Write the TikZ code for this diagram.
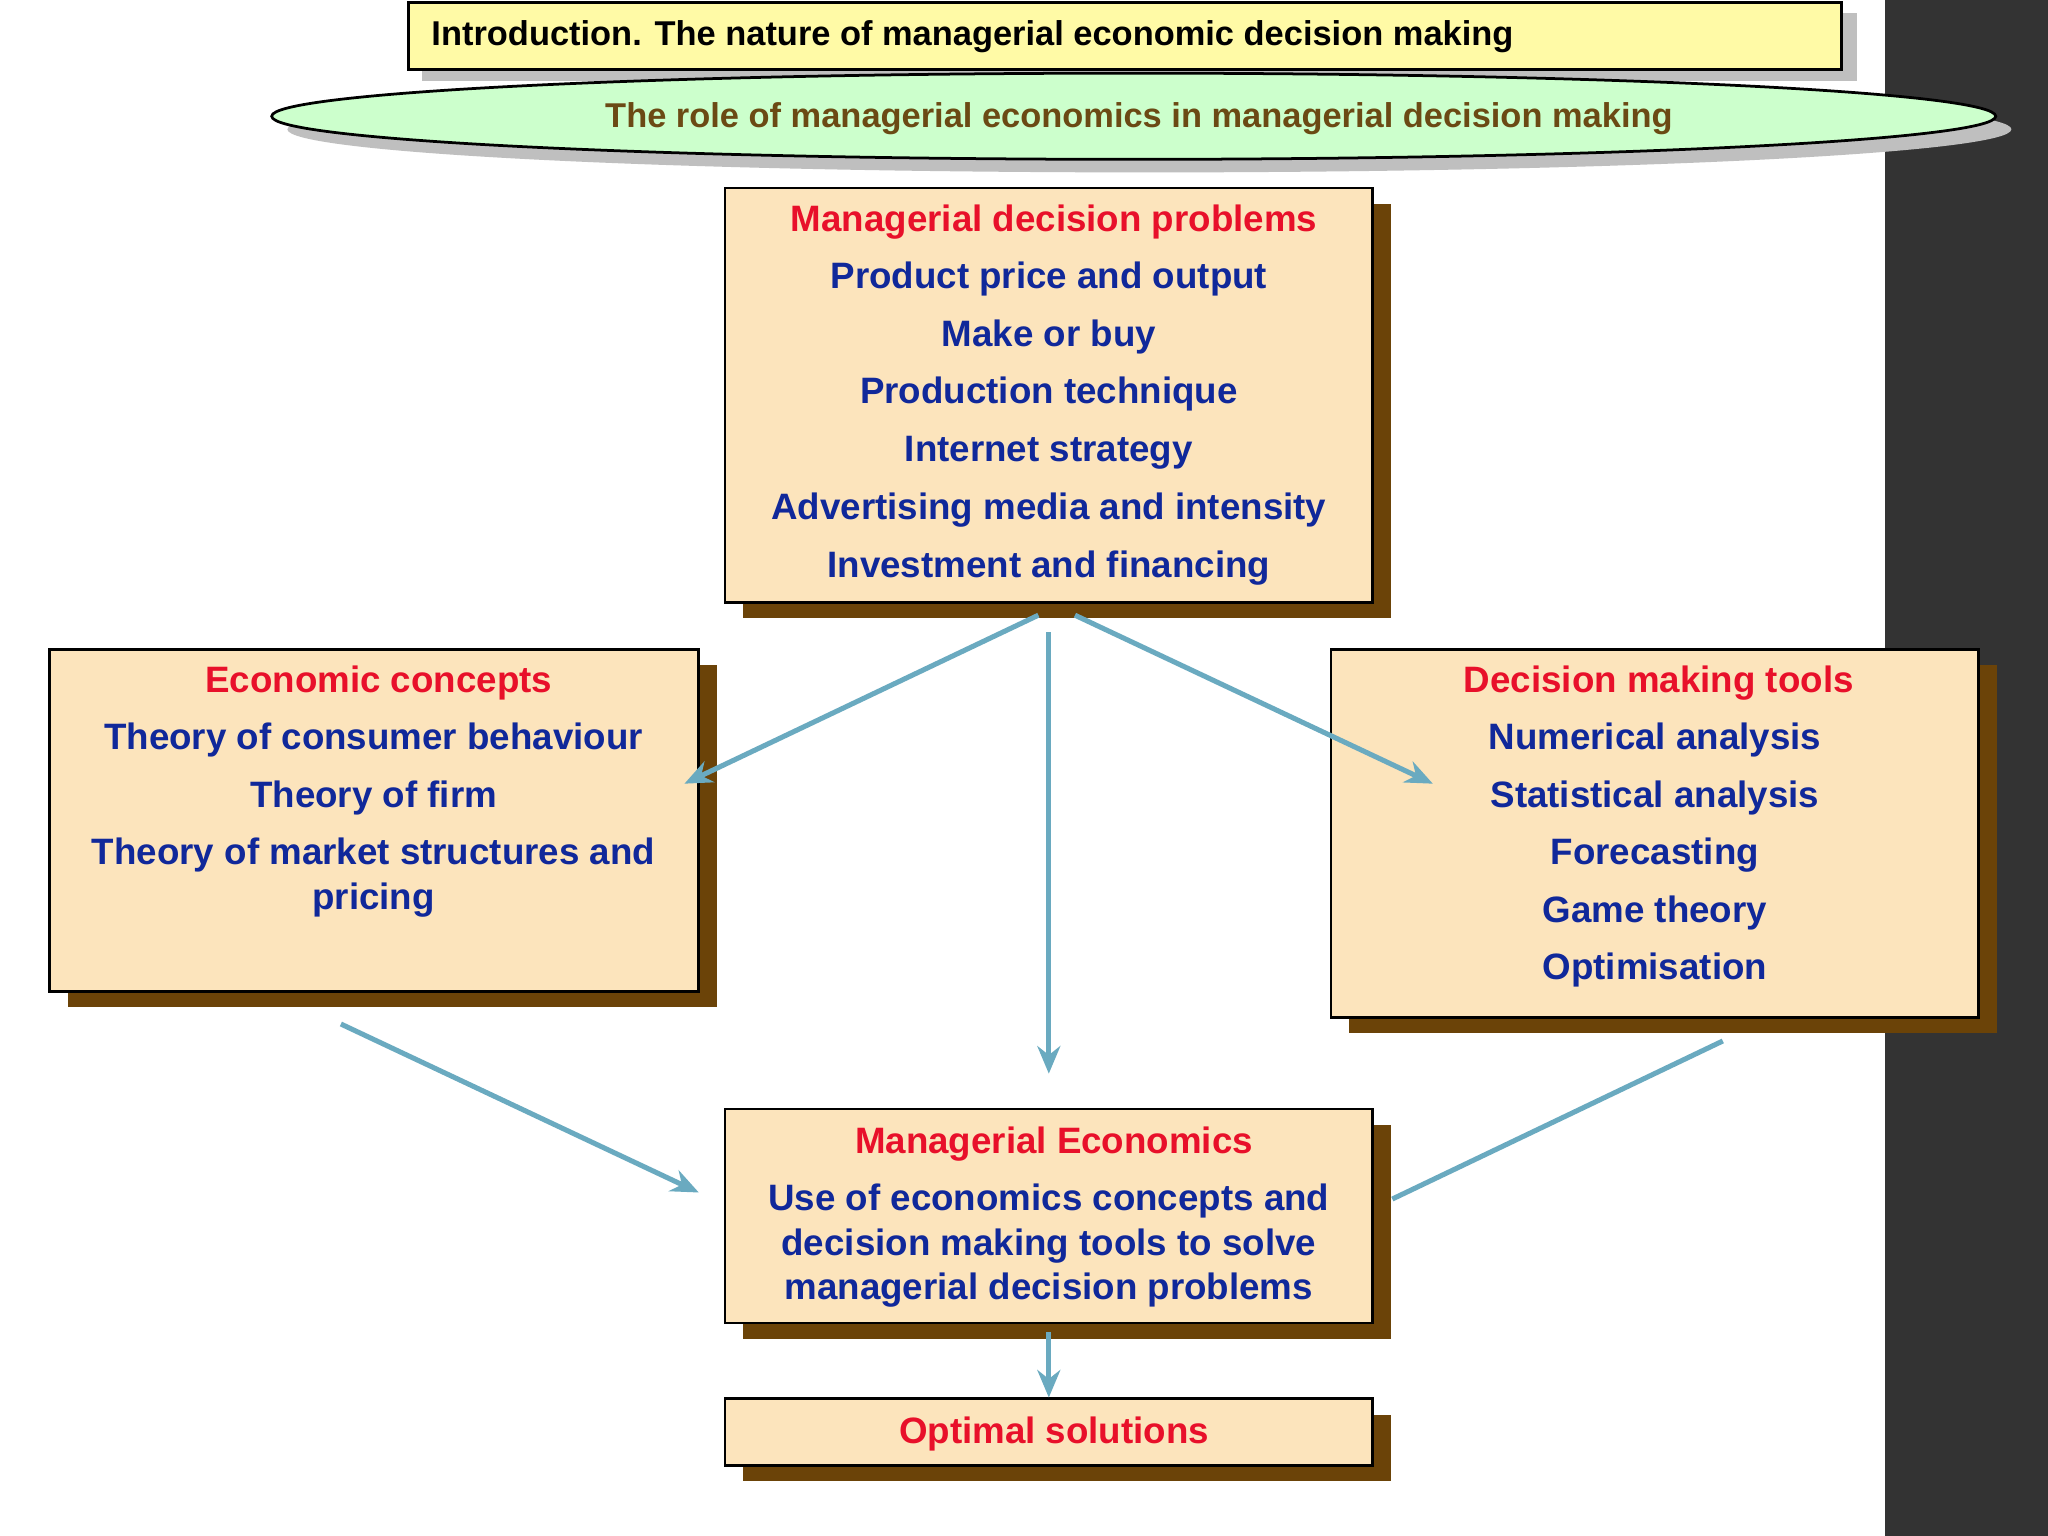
\documentclass[tikz,border=0pt]{standalone}
\usepackage{fontspec}
\setmainfont{Liberation Sans}
\usetikzlibrary{shapes.geometric,arrows.meta}
\definecolor{boxfill}{HTML}{FCE4BC}
\definecolor{shad}{HTML}{6B4308}
\definecolor{redt}{HTML}{E8102A}
\definecolor{bluet}{HTML}{10289A}
\definecolor{arr}{HTML}{6AAAC0}
\definecolor{olive}{HTML}{6B4A14}
\tikzset{
  bx/.style={draw=black,fill=boxfill,line width=1.2pt},
  sh/.style={fill=shad},
  t/.style={font=\bfseries\fontsize{16}{19}\selectfont,inner sep=0pt,anchor=base},
  rt/.style={t,text=redt},
  bt/.style={t,text=bluet},
  ar/.style={draw=arr,line width=2.2pt,-{Stealth[length=12pt,width=10pt]}},
  ln/.style={draw=arr,line width=2.2pt}
}
\begin{document}
\begin{tikzpicture}[x=0.02cm,y=-0.02cm]
\useasboundingbox (0,0) rectangle (1568,1176);
\fill[white] (0,0) rectangle (1568,1176);
\fill[black!80] (1443,0) rectangle (1568,1176);
% title
\fill[black!25] (323,10) rectangle (1422,62);
\draw[draw=black,fill=yellow!35,line width=1.2pt] (313,2) rectangle (1410,53);
\node[t,anchor=base west,font=\bfseries\fontsize{15}{18}\selectfont] (title) at (330,35) {Introduction. The nature of managerial economic decision making};
% ellipse
\fill[black!25] (880,99) ellipse (660 and 33);
\draw[fill=green!20,line width=1.2pt] (868,89) ellipse (660 and 33);
\node[t,text=olive,font=\bfseries\fontsize{15}{18}\selectfont] (role) at (872,98) {The role of managerial economics in managerial decision making};
% boxes
\foreach \a/\b/\c/\d in {555/144/1051/461, 38/497/535/759, 1019/497/1515/779, 555/849/1051/1013, 555/1071/1051/1122}{
  \fill[sh] (\a+14,\b+12) rectangle (\c+14,\d+12);
  \draw[bx] (\a,\b) rectangle (\c,\d);
}
\node (top) at (803,302) [minimum width=9.92cm,minimum height=6.34cm] {};
\node (left) at (286,628) [minimum width=9.94cm,minimum height=5.24cm] {};
\node (right) at (1267,638) [minimum width=9.92cm,minimum height=5.64cm] {};
\node (me) at (803,931) [minimum width=9.92cm,minimum height=3.28cm] {};
\node (opt) at (803,1096) [minimum width=9.92cm,minimum height=1.02cm] {};
% texts
\node[rt] at (807,177) {Managerial decision problems};
\node[bt] at (803,221) {Product price and output};
\node[bt] at (803,265) {Make or buy};
\node[bt] at (803,309) {Production technique};
\node[bt] at (803,353) {Internet strategy};
\node[bt] at (803,398) {Advertising media and intensity};
\node[bt] at (803,442) {Investment and financing};
\node[rt] at (290,530) {Economic concepts};
\node[bt] at (286,574) {Theory of consumer behaviour};
\node[bt] at (286,618) {Theory of firm};
\node[bt] at (286,662) {Theory of market structures and};
\node[bt] at (286,696) {pricing};
\node[rt] at (1270,530) {Decision making tools};
\node[bt] at (1267,574) {Numerical analysis};
\node[bt] at (1267,618) {Statistical analysis};
\node[bt] at (1267,662) {Forecasting};
\node[bt] at (1267,706) {Game theory};
\node[bt] at (1267,750) {Optimisation};
\node[rt] at (807,883) {Managerial Economics};
\node[bt] at (803,927) {Use of economics concepts and};
\node[bt] at (803,961) {decision making tools to solve};
\node[bt] at (803,995) {managerial decision problems};
\node[rt] at (807,1105) {Optimal solutions};
% connectors
\coordinate (a1) at (795,471); \coordinate (a1e) at (524,600);
\coordinate (a2) at (803,484); \coordinate (a2e) at (803,822);
\coordinate (a3) at (823,471); \coordinate (a3e) at (1097,600);
\coordinate (a4) at (261,784); \coordinate (a4e) at (535,913);
\coordinate (a5) at (1319,797); \coordinate (a5e) at (1066,918);
\coordinate (a6) at (803,1020); \coordinate (a6e) at (803,1070);
\draw[ar] (a1) -- (a1e);
\draw[ar] (a2) -- (a2e);
\draw[ar] (a3) -- (a3e);
\draw[ar] (a4) -- (a4e);
\draw[ln] (a5) -- (a5e);
\draw[ar] (a6) -- (a6e);
\end{tikzpicture}
\end{document}
